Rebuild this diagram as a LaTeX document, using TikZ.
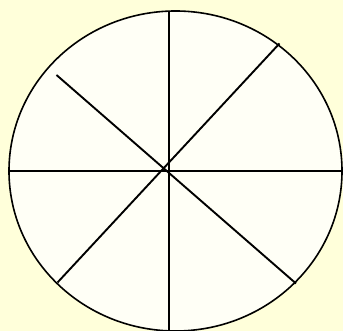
\documentclass[tikz,border=0pt]{standalone}
\usepackage{tikz}
\definecolor{paper}{RGB}{255,255,218}
\definecolor{disc}{RGB}{255,255,246}
\begin{document}
\begin{tikzpicture}[x=1pt,y=-1pt,
  spoke/.style={draw,line width=1.9pt}]
  \fill[paper] (0,0) rectangle (343,331);
  \useasboundingbox (0,0) rectangle (343,331);
  \draw[fill=disc,line width=1.6pt] (175.5,171) ellipse [x radius=166.5,y radius=160];
  \coordinate (top) at (169,11);
  \coordinate (bot) at (169,331);
  \coordinate (lft) at (9,171);
  \coordinate (rgt) at (343,171);
  \coordinate (ne) at (279.5,43.5);
  \coordinate (sw) at (57.5,282.5);
  \coordinate (nw) at (56.5,75);
  \coordinate (se) at (296,283.5);
  \draw[spoke] (top) -- (bot);
  \draw[spoke] (lft) -- (rgt);
  \draw[spoke] (ne) -- (sw);
  \draw[spoke] (nw) -- (se);
\end{tikzpicture}
\end{document}
